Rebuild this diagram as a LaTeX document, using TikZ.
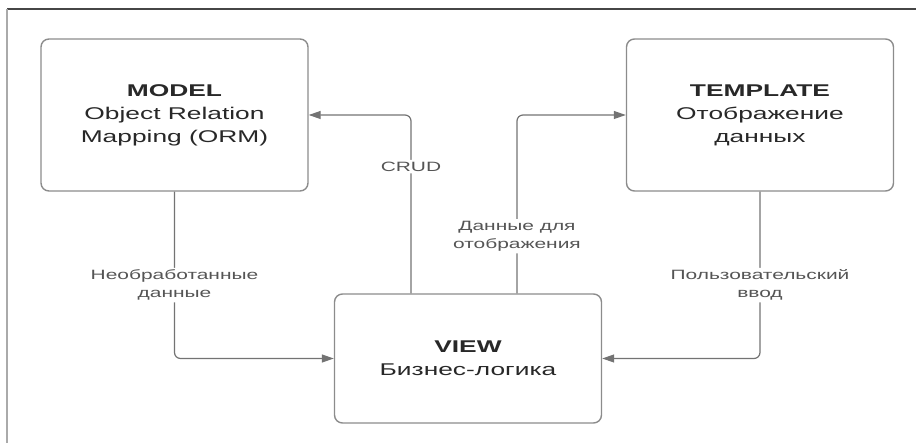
\documentclass[tikz,border=0pt]{standalone}
\usepackage{fontspec}
\setmainfont{Liberation Sans}[FakeStretch=1.55]
\usepackage{tikz}
\usetikzlibrary{
  arrows.meta,
  positioning,
  calc
}
\definecolor{xline}{RGB}{115,115,115}
\definecolor{xedge}{RGB}{140,140,140}
\definecolor{xtext}{RGB}{40,40,40}
\definecolor{xnote}{RGB}{85,85,85}
\definecolor{xframe}{RGB}{70,70,70}
\definecolor{xside}{RGB}{170,170,170}

\begin{document}
\begin{tikzpicture}[x=1pt, y=-1pt,
  box/.style={draw=xedge, line width=1.4pt, fill=white, rounded corners=8pt,
              minimum width=267pt, minimum height=152pt, inner sep=0pt,
              font=\fontsize{17}{23}\selectfont, text=xtext, align=center},
  arr/.style={-{Triangle[length=12pt,width=8pt]}, line width=1.2pt, color=xline, rounded corners=6pt},
  note/.style={font=\fontsize{13.5}{18}\selectfont, text=xnote, fill=white, align=center, inner sep=2pt}
]
  \useasboundingbox (0,0) rectangle (916,443);
  \draw[xframe, line width=1.5pt] (916,9) -- (7,9);
  \draw[xside, line width=2pt] (7,9) -- (7,443);

  \node[box] (model)    at (174.5,115) {\textbf{MODEL}\\ Object Relation\\ Mapping (ORM)};
  \node[box] (template) at (760,115)   {\textbf{TEMPLATE}\\ Отображение\\ данных};
  \node[box, minimum height=129pt] (view) at (468,358.5) {\textbf{VIEW}\\ Бизнес-логика};

  \draw[arr] ([xshift=-57pt]view.north) |- node[note,pos=0.355]{CRUD} (model.east);
  \draw[arr] ([xshift=49pt]view.north)  |- node[note,pos=0.16]{Данные для\\ отображения} (template.west);
  \draw[arr] (model.south)    |- node[note,pos=0.28]{Необработанные\\ данные} (view.west);
  \draw[arr] (template.south) |- node[note,pos=0.28]{Пользовательский\\ ввод} (view.east);
\end{tikzpicture}
\end{document}
